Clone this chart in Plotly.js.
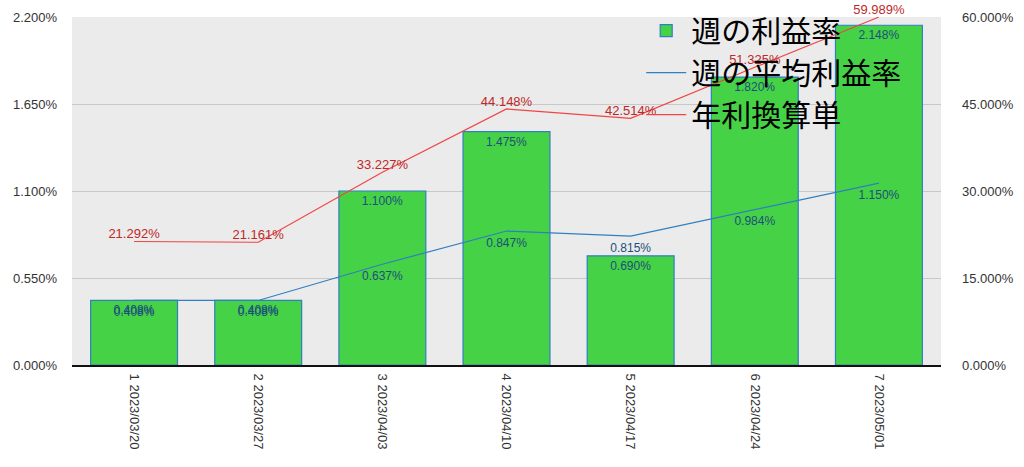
<!DOCTYPE html>
<html>
<head>
<meta charset="utf-8">
<script src="https://cdn.plot.ly/plotly-3.0.1.min.js"></script>
<style>html,body{margin:0;padding:0;background:#fff;}#chart{width:1024px;height:467px;}</style>
</head>
<body>
<div id="chart"></div>
<script>
const categories = ["1 2023/03/20","2 2023/03/27","3 2023/04/03","4 2023/04/10","5 2023/04/17","6 2023/04/24","7 2023/05/01"];
const weeklyRate = [0.408, 0.408, 1.100, 1.475, 0.690, 1.820, 2.148];
const avgRate = [0.408, 0.408, 0.637, 0.847, 0.815, 0.984, 1.150];
const annualRate = [21.292, 21.161, 33.227, 44.148, 42.514, 51.325, 59.989];
const seriesNames = ["週の利益率", "週の平均利益率", "年利換算単"];

const fmt = v => v.toFixed(3) + "%";
const labelFont = {family: "Liberation Sans, Arial, sans-serif", size: 12};

const traces = [
  {
    type: "bar", name: seriesNames[0], x: categories, y: weeklyRate,
    marker: {color: "#46d246", line: {color: "#2f7fc1", width: 1.2}},
    width: 0.7,
    text: weeklyRate.map(fmt), textposition: "inside", insidetextanchor: "end",
    textangle: 0, constraintext: "none",
    textfont: Object.assign({color: "#1d4f7c"}, labelFont),
    cliponaxis: false, hoverinfo: "skip"
  },
  {
    type: "scatter", mode: "lines+markers+text", name: seriesNames[1], x: categories, y: avgRate,
    line: {color: "#2f7fc1", width: 1.2},
    marker: {size: 9, color: "rgba(0,0,0,0)"},
    text: avgRate.map(fmt), textposition: "bottom center",
    textfont: Object.assign({color: "#1d4f7c"}, labelFont),
    cliponaxis: false, hoverinfo: "skip"
  },
  {
    type: "scatter", mode: "lines+text", name: seriesNames[2], x: categories, y: annualRate,
    yaxis: "y2",
    line: {color: "#f04545", width: 1.2},
    text: annualRate.map(fmt), textposition: "top center",
    textfont: Object.assign({color: "#c02828"}, {family: labelFont.family, size: 13}),
    cliponaxis: false, hoverinfo: "skip"
  }
];

const tickFont = {family: "Liberation Sans, Arial, sans-serif", size: 13, color: "#333"};

const layout = {
  width: 1024, height: 467,
  margin: {l: 72, r: 83, t: 17, b: 102, pad: 0, autoexpand: false},
  paper_bgcolor: "#ffffff",
  plot_bgcolor: "#ebebeb",
  showlegend: true,
  legend: {
    x: 0.655, y: 0.99, xanchor: "left", yanchor: "top",
    xref: "paper", yref: "container",
    bgcolor: "rgba(0,0,0,0)",
    font: {family: "Noto Sans CJK JP, sans-serif", size: 30, color: "#000"},
    tracegroupgap: 0, itemwidth: 40
  },
  bargap: 0.3,
  xaxis: {
    type: "category",
    tickangle: 90,
    tickfont: tickFont,
    showgrid: false,
    showline: true, linecolor: "#111", linewidth: 2,
    ticks: "", ticklabelstandoff: 4,
    automargin: false
  },
  yaxis: {
    range: [0, 2.2], dtick: 0.55, tick0: 0,
    tickformat: ".3f", ticksuffix: "%",
    tickfont: tickFont,
    showgrid: true, gridcolor: "#c8c8c8", gridwidth: 1,
    zeroline: false, showline: false,
    ticks: "", ticklabelstandoff: 14,
    automargin: false
  },
  yaxis2: {
    overlaying: "y", side: "right",
    range: [0, 60], dtick: 15, tick0: 0,
    tickformat: ".3f", ticksuffix: "%",
    tickfont: tickFont,
    showgrid: false, zeroline: false, showline: false,
    ticks: "", ticklabelstandoff: 20,
    automargin: false
  }
};

Plotly.newPlot("chart", traces, layout, {displayModeBar: false, staticPlot: true});
</script>
</body>
</html>
